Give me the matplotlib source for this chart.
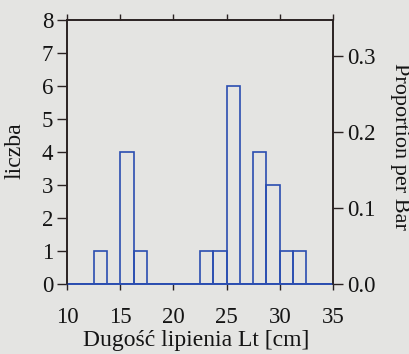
import numpy as np
import matplotlib
matplotlib.use("Agg")
import matplotlib.pyplot as plt

# histogram bins (cm) and counts
bin_left = np.arange(10, 35, 1.25)
counts = [0, 0, 1, 0, 4, 1, 0, 0, 0, 0,
          1, 1, 6, 0, 4, 3, 1, 1, 0, 0]
bin_width = 1.25
x_ticks = [10, 15, 20, 25, 30, 35]
y_ticks = [0, 1, 2, 3, 4, 5, 6, 7, 8]
prop_ticks = [0.0, 0.1, 0.2, 0.3]

plt.rcParams['font.family'] = ['Liberation Serif', 'DejaVu Serif']
bg = '#e4e4e2'
blue = '#2a4db0'
ink = '#2a2222'
txt = '#141414'
fs = 16.5

fig = plt.figure(figsize=(4.09, 3.54), dpi=100, facecolor=bg)
ax = fig.add_axes([0.164, 0.198, 0.650, 0.746])
ax.set_facecolor(bg)

ax.bar(bin_left, counts, width=bin_width, align='edge', fill=False,
       edgecolor=blue, linewidth=1.2, zorder=3)
ax.axhline(0, color=blue, linewidth=1.4, zorder=4, clip_on=False)

ax.set_xlim(10, 35)
ax.set_ylim(0, 8)
ax.set_xticks(x_ticks)
ax.set_yticks(y_ticks)
ax.tick_params(direction='out', length=7, width=1, colors=ink,
               labelsize=fs, labelcolor=txt, pad=3)
ax.tick_params(axis='x', top=True, labeltop=False, pad=12)
ax.xaxis.set_tick_params(which='major', length=4.5)
for s in ax.spines.values():
    s.set_color(ink)
    s.set_linewidth(1.2)
ax.spines['bottom'].set_visible(False)

ax.set_xlabel('Dugość lipienia Lt [cm]', fontsize=17, color=txt)
ax.xaxis.set_label_coords(0.487, -0.215)
ax.xaxis.label.set_va('center')
ax.set_ylabel('liczba', fontsize=17, color=txt)
ax.yaxis.set_label_coords(-0.195, 0.503)
ax.yaxis.label.set_va('center')

ax2 = ax.twinx()
ax2.set_ylim(0, 8 / sum(counts))
ax2.set_yticks(prop_ticks)
ax2.set_yticklabels([f'{v:.1f}' for v in prop_ticks])
ax2.tick_params(direction='out', length=7, width=1, colors=ink,
                labelsize=fs, labelcolor=txt, pad=3.5)
for s in ax2.spines.values():
    s.set_color(ink)
    s.set_linewidth(1.2)
ax2.spines['bottom'].set_visible(False)
ax2.set_ylabel('Proportion per Bar', fontsize=16, color=txt, rotation=-90)
ax2.yaxis.set_label_coords(1.252, 0.519)
ax2.yaxis.label.set_va('center')
ax2.yaxis.label.set_ha('center')

fig.savefig('out.png', dpi=100, facecolor=bg)
